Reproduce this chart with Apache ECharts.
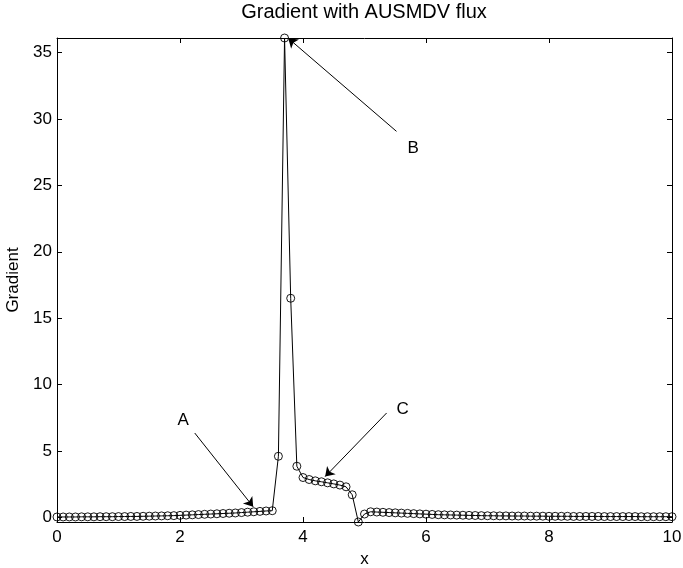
<!DOCTYPE html>
<html>
<head>
<meta charset="utf-8">
<script src="https://cdn.jsdelivr.net/npm/echarts@6/dist/echarts.min.js"></script>
<style>html,body{margin:0;padding:0;background:#fff}#c{width:683px;height:568px}</style>
</head>
<body>
<div id="c"></div>
<script>
var xs = [0.0,0.1,0.2,0.3,0.4,0.5,0.6,0.7,0.8,0.9,1.0,1.1,1.2,1.3,1.4,1.5,1.6,1.7,1.8,1.9,
2.0,2.1,2.2,2.3,2.4,2.5,2.6,2.7,2.8,2.9,3.0,3.1,3.2,3.3,3.4,3.5,3.6,3.7,3.8,3.9,
4.0,4.1,4.2,4.3,4.4,4.5,4.6,4.7,4.8,4.9,5.0,5.1,5.2,5.3,5.4,5.5,5.6,5.7,5.8,5.9,
6.0,6.1,6.2,6.3,6.4,6.5,6.6,6.7,6.8,6.9,7.0,7.1,7.2,7.3,7.4,7.5,7.6,7.7,7.8,7.9,
8.0,8.1,8.2,8.3,8.4,8.5,8.6,8.7,8.8,8.9,9.0,9.1,9.2,9.3,9.4,9.5,9.6,9.7,9.8,9.9,10.0];
var gradient = [0.03,0.03,0.03,0.03,0.04,0.04,0.04,0.05,0.05,0.05,0.06,0.06,0.07,0.07,0.08,
0.09,0.10,0.11,0.12,0.13,0.15,0.17,0.19,0.21,0.23,0.25,0.27,0.29,0.31,0.33,
0.36,0.39,0.42,0.45,0.48,0.50,
4.6,36.1,16.5,3.85,
3.0,2.85,2.75,2.68,2.6,2.52,2.43,2.3,
1.7,-0.35,
0.25,0.42,
0.40,0.38,0.36,0.34,0.32,0.30,0.28,0.26,
0.24,0.22,0.20,0.19,0.18,0.17,0.16,0.15,0.14,0.13,
0.12,0.12,0.11,0.11,0.10,0.10,0.10,0.09,0.09,0.09,0.08,0.08,0.08,0.08,0.07,0.07,0.07,0.07,0.07,0.06,0.06,
0.06,0.06,0.06,0.06,0.05,0.05,0.05,0.05,0.05,0.05];
var xTicks = [0,2,4,6,8,10];
var yTicks = [0,5,10,15,20,25,30,35];
var yMin = -0.35, yMax = 36.1;
var annoNames = ['A','B','C'];
var annoTextPos = [[2.05,7.3],[5.79,27.8],[5.62,8.1]];
var annoStart = [[2.24,6.35],[5.52,29.07],[5.36,7.86]];
var annoTip = [[3.19,0.80],[3.76,36.08],[4.36,3.07]];

var FONT = 'Liberation Sans, Arial, sans-serif';
var chart = echarts.init(document.getElementById('c'), null, {renderer:'canvas'});
var pts = xs.map(function(x,i){return [x, gradient[i]];});
var black = '#000';
function mkAxisBase(){
  return {
    axisLine:{show:true,onZero:false,lineStyle:{color:black,width:1}},
    axisTick:{show:true,inside:true,length:5,lineStyle:{color:black,width:1}},
    splitLine:{show:false}
  };
}
var xBottom = Object.assign(mkAxisBase(), {
  type:'value', position:'bottom', min:0, max:10, interval:2,
  axisLabel:{color:black,fontFamily:FONT,fontSize:17,margin:7},
  name:'x', nameLocation:'middle', nameGap:29,
  nameTextStyle:{color:black,fontFamily:FONT,fontSize:17}
});
var xTop = Object.assign(mkAxisBase(), {
  type:'value', position:'top', min:0, max:10, interval:2,
  axisLabel:{show:false}
});
var yLeft = Object.assign(mkAxisBase(), {
  type:'value', position:'left', min:yMin, max:yMax,
  axisLabel:{color:black,fontFamily:FONT,fontSize:17,margin:5,customValues:yTicks},
  axisTick:{show:true,inside:true,length:5,lineStyle:{color:black,width:1},customValues:yTicks},
  name:'Gradient', nameLocation:'middle', nameGap:26,
  nameTextStyle:{color:black,fontFamily:FONT,fontSize:17}
});
var yRight = Object.assign(mkAxisBase(), {
  type:'value', position:'right', min:yMin, max:yMax,
  axisLabel:{show:false,customValues:yTicks},
  axisTick:{show:true,inside:true,length:5,lineStyle:{color:black,width:1},customValues:yTicks}
});

var option = {
  backgroundColor:'#fff',
  animation:false,
  title:{
    text:'Gradient with AUSMDV flux',
    left:364, top:2, padding:0, textAlign:'center',
    textStyle:{color:black,fontFamily:FONT,fontSize:20,fontWeight:'normal'}
  },
  grid:{left:57,right:11,top:38,bottom:46,containLabel:false,outerBoundsMode:'none'},
  xAxis:[xBottom,xTop],
  yAxis:[yLeft,yRight],
  series:[{
    type:'line',
    data:pts,
    xAxisIndex:0,yAxisIndex:0,
    symbol:'circle',symbolSize:8,
    showAllSymbol:true,
    clip:false,
    lineStyle:{color:black,width:1},
    itemStyle:{color:'rgba(255,255,255,0)',borderColor:black,borderWidth:0.9},
    markLine:{
      silent:true,
      symbol:['none','arrow'],
      symbolSize:9,
      label:{show:false},
      itemStyle:{color:black},
      lineStyle:{color:black,width:1,type:'solid'},
      data:annoStart.map(function(s,i){return [{coord:s},{coord:annoTip[i]}];})
    },
    markPoint:{
      silent:true,
      symbol:'circle',symbolSize:0,
      label:{show:true,position:'inside',color:black,fontFamily:FONT,fontSize:17,
        formatter:function(p){return p.name;}},
      data:annoNames.map(function(n,i){return {name:n,coord:annoTextPos[i]};})
    }
  }]
};
chart.setOption(option);
</script>
</body>
</html>
